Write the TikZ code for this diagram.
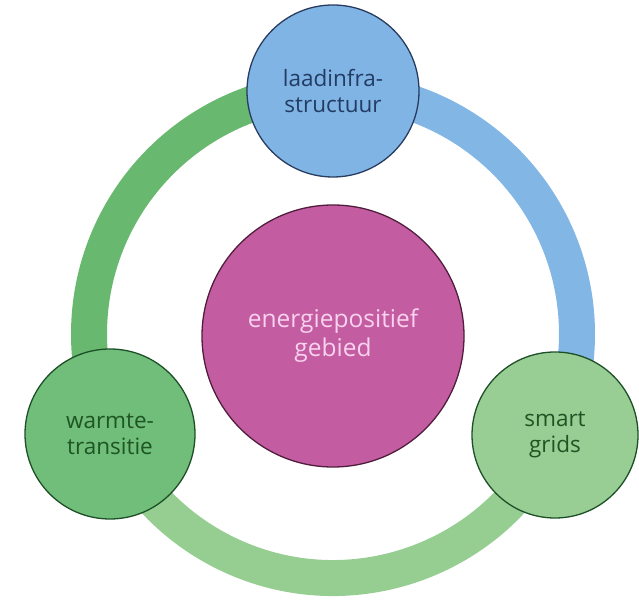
\documentclass[tikz,border=0pt]{standalone}
\usepackage{fontspec}
\setmainfont{Open Sans}
\usetikzlibrary{calc}
\definecolor{ringblue}{RGB}{130,182,228}
\definecolor{ringdark}{RGB}{104,184,112}
\definecolor{ringlight}{RGB}{150,206,146}
\definecolor{topfill}{RGB}{128,180,228}
\definecolor{topline}{RGB}{40,60,95}
\definecolor{toptext}{RGB}{35,60,100}
\definecolor{leftfill}{RGB}{112,190,122}
\definecolor{rightfill}{RGB}{152,206,148}
\definecolor{greenline}{RGB}{30,80,40}
\definecolor{greentext}{RGB}{30,85,35}
\definecolor{midfill}{RGB}{196,92,162}
\definecolor{midline}{RGB}{80,30,60}
\definecolor{midtext}{RGB}{248,210,238}
\begin{document}
\begin{tikzpicture}[x=1pt,y=1pt,
  ring/.style={line width=36pt,line cap=butt},
  bubble/.style={circle,draw,line width=1.3pt,align=center,inner sep=0pt,
    font=\fontsize{22.5}{26.5}\selectfont}]
\useasboundingbox (0,0) rectangle (639,599);
\coordinate (c) at (333,265);
\draw[ring,ringblue] ($(c)+(90:244)$) arc[start angle=90,end angle=-24,radius=244];
\draw[ring,ringlight] ($(c)+(-24:244)$) arc[start angle=-24,end angle=-156,radius=244];
\draw[ring,ringdark] ($(c)+(204:244)$) arc[start angle=204,end angle=90,radius=244];
\node[bubble,minimum size=172pt,fill=topfill,draw=topline,text=toptext] (top) at (333,508) {laadinfra-\\structuur};
\node[bubble,minimum size=170pt,fill=leftfill,draw=greenline,text=greentext] (left) at (110,165) {warmte-\\transitie};
\node[bubble,minimum size=166pt,fill=rightfill,draw=greenline,text=greentext] (right) at (555,164) {smart\\grids};
\node[bubble,minimum size=262pt,fill=midfill,draw=midline,text=midtext,font=\fontsize{24.5}{29}\selectfont] (mid) at (333,263) {energiepositief\\gebied};
\end{tikzpicture}
\end{document}
